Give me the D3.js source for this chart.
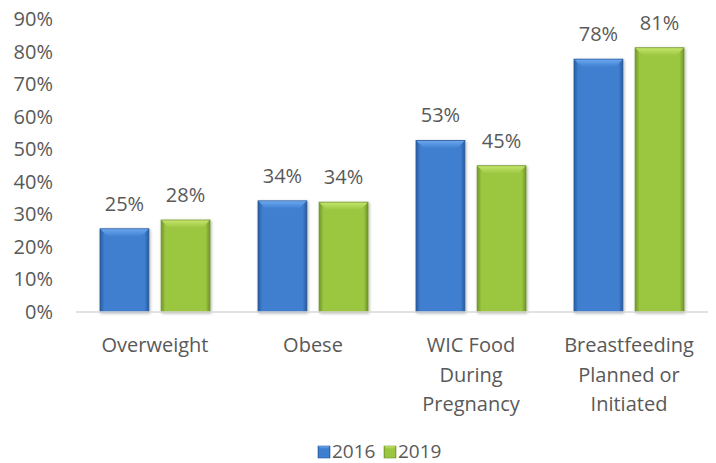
<!DOCTYPE html>
<html>
<head>
<meta charset="utf-8">
<script src="https://cdn.jsdelivr.net/npm/d3@7"></script>
<style>
  body { margin: 0; background: #fff; }
  text { font-family: "Open Sans", sans-serif; fill: #595959; }
</style>
</head>
<body>
<div id="canvas"></div>
<script>
// chart data
const categories = [
  ["Overweight"],
  ["Obese"],
  ["WIC Food", "During", "Pregnancy"],
  ["Breastfeeding", "Planned or", "Initiated"]
];
const seriesNames = ["2016", "2019"];
const values2016 = [0.256, 0.342, 0.528, 0.778];
const values2019 = [0.283, 0.338, 0.450, 0.813];
const valueLabels2016 = ["25%", "34%", "53%", "78%"];
const valueLabels2019 = ["28%", "34%", "45%", "81%"];
const yTicks = [0, 0.1, 0.2, 0.3, 0.4, 0.5, 0.6, 0.7, 0.8, 0.9];

const width = 716;
const height = 463;
const margin = { top: 19.5, left: 76, bottom: 151, right: 8 };

const colors = {
  "2016": { base: "#3f7fd0", light: "#6aa6ee", dark: "#285a9e" },
  "2019": { base: "#9bc640", light: "#c2e46a", dark: "#71952a" }
};

const svg = d3.select("#canvas").append("svg")
  .attr("width", width)
  .attr("height", height);

const defs = svg.append("defs");
seriesNames.forEach(s => {
  const c = colors[s];
  const g = defs.append("linearGradient").attr("id", "side" + s)
    .attr("x1", "0%").attr("x2", "100%").attr("y1", "0%").attr("y2", "0%");
  g.append("stop").attr("offset", "0%").attr("stop-color", c.dark);
  g.append("stop").attr("offset", "9%").attr("stop-color", c.base);
  g.append("stop").attr("offset", "91%").attr("stop-color", c.base);
  g.append("stop").attr("offset", "100%").attr("stop-color", c.dark);
  const t = defs.append("linearGradient").attr("id", "top" + s)
    .attr("x1", "0%").attr("x2", "0%").attr("y1", "0%").attr("y2", "100%");
  t.append("stop").attr("offset", "0%").attr("stop-color", c.light);
  t.append("stop").attr("offset", "100%").attr("stop-color", c.base);
});
const shadow = defs.append("filter").attr("id", "shadow")
  .attr("x", "-20%").attr("y", "-10%").attr("width", "140%").attr("height", "120%");
shadow.append("feDropShadow").attr("dx", 1).attr("dy", 1)
  .attr("stdDeviation", 1.5).attr("flood-color", "#000").attr("flood-opacity", 0.3);

const y = d3.scaleLinear()
  .domain([0, 0.9])
  .range([height - margin.bottom, margin.top]);

const x0 = d3.scaleBand()
  .domain(d3.range(categories.length))
  .range([margin.left, width - margin.right]);

const x1 = d3.scaleBand()
  .domain(seriesNames)
  .range([24, x0.bandwidth() - 24])
  .paddingInner(0.2);

// y axis labels
const yAxis = svg.append("g")
  .attr("transform", `translate(${margin.left},0)`)
  .call(d3.axisLeft(y).tickValues(yTicks).tickFormat(d3.format(".0%")).tickSize(0).tickPadding(23));
yAxis.select(".domain").remove();
yAxis.selectAll("text").style("font-size", "20px").attr("fill", "#595959");

// bars
const rows = [];
categories.forEach((c, i) => {
  rows.push({ cat: i, s: "2016", v: values2016[i], label: valueLabels2016[i] });
  rows.push({ cat: i, s: "2019", v: values2019[i], label: valueLabels2019[i] });
});

const bar = svg.append("g").selectAll("g").data(rows).enter().append("g")
  .attr("transform", d => `translate(${x0(d.cat) + x1(d.s)},0)`);

bar.append("rect")
  .attr("x", 0)
  .attr("y", d => y(d.v))
  .attr("width", x1.bandwidth())
  .attr("height", d => y(0) - y(d.v))
  .attr("fill", d => `url(#side${d.s})`)
  .attr("stroke", d => colors[d.s].dark)
  .attr("stroke-width", 0.8)
  .attr("filter", "url(#shadow)");

// top bevel
const bevel = 8;
bar.append("path")
  .attr("d", d => {
    const t = y(d.v), w = x1.bandwidth();
    return `M0.5,${t + 0.5}L${w - 0.5},${t + 0.5}L${w - bevel},${t + bevel}L${bevel},${t + bevel}Z`;
  })
  .attr("fill", d => `url(#top${d.s})`);

bar.append("text")
  .attr("x", x1.bandwidth() / 2)
  .attr("y", d => y(d.v) - 18)
  .attr("text-anchor", "middle")
  .style("font-size", "20px")
  .text(d => d.label);

// x axis line
svg.append("line")
  .attr("x1", margin.left).attr("x2", width - margin.right)
  .attr("y1", y(0)).attr("y2", y(0))
  .attr("stroke", "#d9d9d9").attr("stroke-width", 1.5);

// category labels
const catLabels = svg.append("g").selectAll("text").data(categories).enter().append("text")
  .attr("text-anchor", "middle")
  .attr("x", (d, i) => x0(i) + x0.bandwidth() / 2)
  .attr("y", y(0) + 40)
  .style("font-size", "20px");
catLabels.selectAll("tspan").data(d => d).enter().append("tspan")
  .attr("x", function() { return this.parentNode.getAttribute("x"); })
  .attr("dy", (d, i) => i === 0 ? 0 : 29.5)
  .text(d => d);

// legend
const legend = svg.append("g").attr("transform", "translate(318,446)");
const legendX = [0, 66];
seriesNames.forEach((s, i) => {
  const g = legend.append("g").attr("transform", `translate(${legendX[i]},0)`);
  g.append("rect").attr("width", 12).attr("height", 12)
    .attr("fill", `url(#side${s})`).attr("stroke", colors[s].dark).attr("stroke-width", 0.6);
  g.append("path").attr("d", "M0.3,0.3L11.7,0.3L9,3L3,3Z").attr("fill", `url(#top${s})`);
  g.append("text").attr("x", 14).attr("y", 12).style("font-size", "19px").text(s);
});
</script>
</body>
</html>
